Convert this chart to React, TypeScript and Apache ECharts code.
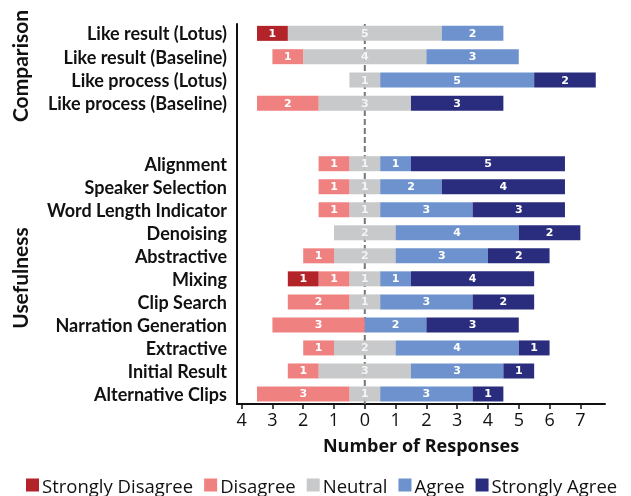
import React, { useEffect, useRef } from "react";
import * as echarts from "echarts";

const categoriesTop = ["Like result (Lotus)", "Like result (Baseline)", "Like process (Lotus)", "Like process (Baseline)"];
const topSD = [1, 0, 0, 0];
const topD = [0, 1, 0, 2];
const topN = [5, 4, 1, 3];
const topA = [2, 3, 5, 0];
const topSA = [0, 0, 2, 3];

const categoriesBottom = [
  "Alignment", "Speaker Selection", "Word Length Indicator", "Denoising", "Abstractive", "Mixing",
  "Clip Search", "Narration Generation", "Extractive", "Initial Result", "Alternative Clips",
];
const botSD = [0, 0, 0, 0, 0, 1, 0, 0, 0, 0, 0];
const botD = [1, 1, 1, 0, 1, 1, 2, 3, 1, 1, 3];
const botN = [1, 1, 1, 2, 2, 1, 1, 0, 2, 3, 1];
const botA = [1, 2, 3, 4, 3, 1, 3, 2, 4, 3, 3];
const botSA = [5, 4, 3, 2, 2, 4, 2, 3, 1, 1, 1];

const xTicks = [-4, -3, -2, -1, 0, 1, 2, 3, 4, 5, 6, 7];
const legendNames = ["Strongly Disagree", "Disagree", "Neutral", "Agree", "Strongly Agree"];
const colors = ["#b3232a", "#f08181", "#c8c9ca", "#6d92cd", "#2a2d7d"];

const TXT = "Lato, 'Open Sans', sans-serif";
const WIDE = "'Open Sans', Lato, sans-serif";
const XMIN = -4.15;
const XMAX = 7.8;

export default function App() {
  const ref = useRef<HTMLDivElement>(null);
  useEffect(() => {
    if (!ref.current) return;
    const chart = echarts.init(ref.current, null, { renderer: "svg" });
    const label = {
      show: true,
      color: "#ffffff",
      textBorderWidth: 0,
      fontFamily: "'DejaVu Sans', sans-serif",
      fontWeight: "bold" as const,
      fontSize: 11,
      formatter: (p: any) => {
        const v = Math.abs(Array.isArray(p.value) ? p.value[0] : p.value);
        return v ? String(v) : "";
      },
    };
    const mk = (v: number[], sign: number) => v.map((d) => (d ? sign * d : null));
    const groupSeries = (gi: number, sd: number[], d: number[], n: number[], a: number[], sa: number[]) => {
      const base = { type: "bar", xAxisIndex: gi, yAxisIndex: gi, stack: "s" + gi, barWidth: 15, z: 3 };
      return [
        { ...base, name: "Neutral", data: mk(n.map((x) => x / 2), -1), itemStyle: { color: colors[2] }, label: { show: false } },
        { ...base, name: "Disagree", data: mk(d, -1), itemStyle: { color: colors[1] }, label },
        { ...base, name: "Strongly Disagree", data: mk(sd, -1), itemStyle: { color: colors[0] }, label },
        { ...base, name: "Neutral", data: mk(n.map((x) => x / 2), 1), itemStyle: { color: colors[2] }, label: { show: false } },
        { ...base, name: "Agree", data: mk(a, 1), itemStyle: { color: colors[3] }, label },
        { ...base, name: "Strongly Agree", data: mk(sa, 1), itemStyle: { color: colors[4] }, label },
        {
          type: "scatter",
          name: "nlabel" + gi,
          xAxisIndex: gi,
          yAxisIndex: gi,
          symbolSize: 1,
          z: 20,
          silent: true,
          itemStyle: { color: "rgba(0,0,0,0)", opacity: 1 },
          data: n.map((x, i) => (x ? [0, i, x] : null)).filter((x) => x),
          label: { ...label, color: "#f4f4f4", position: "inside", formatter: (p: any) => String(p.value[2]) },
        },
      ];
    };
    const catAxis = (gi: number, cats: string[]) => ({
      type: "category",
      gridIndex: gi,
      data: cats,
      inverse: true,
      axisLine: { show: false },
      axisTick: { show: true, alignWithLabel: true, interval: 0, length: 4, lineStyle: { color: "#111", width: 1.5 } },
      axisLabel: { interval: 0, fontFamily: TXT, fontWeight: "bold", fontSize: 18, color: "#111", margin: 10 },
    });
    const hiddenX = (gi: number) => ({ type: "value", gridIndex: gi, min: XMIN, max: XMAX, show: false });
    chart.setOption({
      animation: false,
      grid: [
        { left: 237, width: 368, top: 21.7, height: 93.3 },
        { left: 237, width: 368, top: 152.2, height: 253.3 },
        { left: 237, width: 368, top: 24, height: 380 },
      ],
      xAxis: [
        hiddenX(0),
        hiddenX(1),
        {
          type: "value",
          gridIndex: 2,
          min: XMIN,
          max: XMAX,
          splitLine: { show: false },
          axisLine: { show: true, onZero: false, lineStyle: { color: "#111", width: 2 } },
          axisTick: { show: true, customValues: xTicks, length: 5, lineStyle: { color: "#111", width: 1.5 } },
          axisLabel: {
            customValues: xTicks,
            formatter: (v: number) => String(Math.abs(v)),
            fontFamily: WIDE,
            fontSize: 18,
            color: "#111",
            margin: 6,
          },
          name: "Number of Responses",
          nameLocation: "middle",
          nameGap: 32,
          nameTextStyle: { fontFamily: WIDE, fontWeight: "bold", fontSize: 18, color: "#111" },
        },
      ],
      yAxis: [
        catAxis(0, categoriesTop),
        catAxis(1, categoriesBottom),
        {
          type: "value",
          gridIndex: 2,
          min: 0,
          max: 1,
          axisLabel: { show: false },
          axisTick: { show: false },
          splitLine: { show: false },
          axisLine: { show: true, onZero: false, lineStyle: { color: "#111", width: 2 } },
        },
      ],
      legend: {
        data: legendNames,
        top: 475,
        left: 26,
        width: 620,
        padding: 0,
        itemWidth: 13,
        itemHeight: 13,
        itemGap: 11,
        icon: "rect",
        textStyle: { fontFamily: WIDE, fontSize: 18.5, lineHeight: 20, color: "#111", padding: [0, 0, 0, -2] },
      },
      graphic: [
        {
          type: "text",
          x: 19,
          y: 66,
          rotation: Math.PI / 2,
          style: { text: "Comparison", fontFamily: TXT, fontWeight: "bold", fontSize: 21, fill: "#111", align: "center", verticalAlign: "middle" },
        },
        {
          type: "text",
          x: 19,
          y: 278,
          rotation: Math.PI / 2,
          style: { text: "Usefulness", fontFamily: TXT, fontWeight: "bold", fontSize: 21, fill: "#111", align: "center", verticalAlign: "middle" },
        },
      ],
      series: [
        ...groupSeries(0, topSD, topD, topN, topA, topSA),
        ...groupSeries(1, botSD, botD, botN, botA, botSA),
        {
          type: "line",
          name: "zero",
          xAxisIndex: 2,
          yAxisIndex: 2,
          z: 1,
          symbol: "none",
          silent: true,
          data: [[0, 0], [0, 1]],
          lineStyle: { color: "#777", width: 2, type: [6, 3] },
        },
      ],
    });
    return () => chart.dispose();
  }, []);
  return <div ref={ref} style={{ position: "fixed", left: 0, top: 0, width: 631, height: 496 }} />;
}
